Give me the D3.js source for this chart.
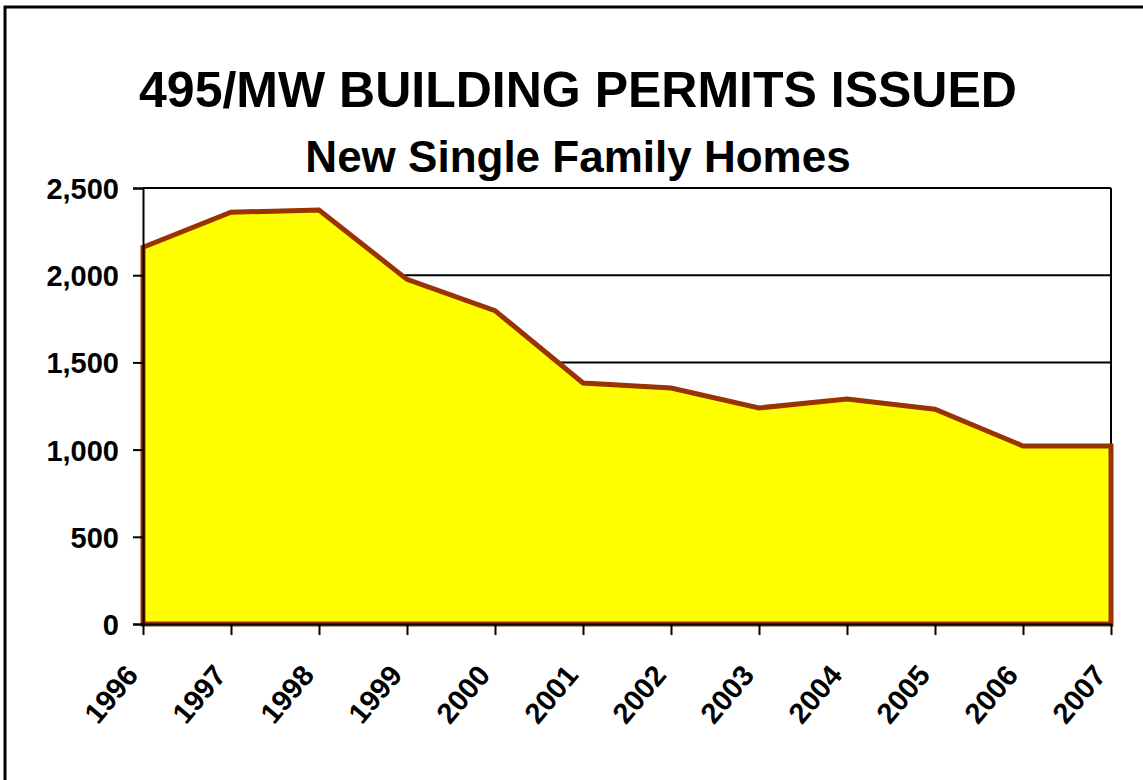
<!DOCTYPE html>
<html>
    <head>
        <meta charset="utf-8" />
        <title>495/MW Building Permits</title>
        <script src="https://d3js.org/d3.v7.min.js"></script>
        <style>
            body { margin: 0; background: white; }
            text { font-family: "Liberation Sans", Arial, sans-serif; font-weight: bold; fill: black; }
        </style>
    </head>
    <body>
        <svg id="chart" width="1143" height="780"></svg>

        <script>
            // data
            var years = ["1996", "1997", "1998", "1999", "2000", "2001",
                         "2002", "2003", "2004", "2005", "2006", "2007"];
            var permits = [2160, 2361, 2374, 1976, 1797, 1382,
                           1353, 1239, 1290, 1231, 1021, 1021];
            var yTicks = [0, 500, 1000, 1500, 2000, 2500];

            var svg = d3.select("#chart");

            // outer frame (right and bottom run off the picture)
            svg.append("rect")
                .attr("x", 5).attr("y", 7)
                .attr("width", 1160).attr("height", 800)
                .attr("fill", "none")
                .attr("stroke", "black")
                .attr("stroke-width", 3);

            // plot box (note: "top" is taken by window.top)
            var plotLeft = 143, plotRight = 1111, plotTop = 188, plotBottom = 624;

            var x = d3.scalePoint().domain(years).range([plotLeft, plotRight]);
            var y = d3.scaleLinear().domain([0, 2500]).range([plotBottom, plotTop]);

            // titles
            svg.append("text")
                .attr("x", 578).attr("y", 107)
                .attr("text-anchor", "middle")
                .style("font-size", "50px")
                .text("495/MW BUILDING PERMITS ISSUED");

            svg.append("text")
                .attr("x", 578).attr("y", 172)
                .attr("text-anchor", "middle")
                .style("font-size", "44px")
                .text("New Single Family Homes");

            // gridlines
            svg.append("g")
                .selectAll("line")
                .data(yTicks.filter(function(d) { return d > 0; }))
                .join("line")
                .attr("x1", plotLeft).attr("x2", plotRight)
                .attr("y1", function(d) { return y(d); })
                .attr("y2", function(d) { return y(d); })
                .attr("stroke", "black")
                .attr("stroke-width", 2);

            // right border of plot
            svg.append("line")
                .attr("x1", plotRight).attr("x2", plotRight)
                .attr("y1", plotTop).attr("y2", plotBottom)
                .attr("stroke", "black")
                .attr("stroke-width", 2);

            // the area, closed down to zero so the brown edge runs all round
            var area = d3.area()
                .x(function(d, i) { return x(years[i]); })
                .y0(y(0))
                .y1(function(d) { return y(d); });

            svg.append("path")
                .datum(permits)
                .attr("d", area)
                .attr("fill", "#ffff00")
                .attr("stroke", "#993300")
                .attr("stroke-width", 5)
                .attr("stroke-linejoin", "miter");

            // y axis
            var yAxis = d3.axisLeft(y)
                .tickValues(yTicks)
                .tickFormat(d3.format(","))
                .tickSize(10)
                .tickPadding(14);

            var gy = svg.append("g")
                .attr("transform", "translate(" + plotLeft + ",0)")
                .call(yAxis);
            gy.select(".domain").attr("stroke", "black").attr("stroke-width", 2);
            gy.selectAll(".tick line").attr("stroke", "black").attr("stroke-width", 2);
            gy.selectAll(".tick text")
                .attr("fill", "black")
                .style("font-size", "29px")
                .attr("dy", "0.36em");

            // x axis
            var xAxis = d3.axisBottom(x).tickSize(11).tickSizeOuter(0);
            var gx = svg.append("g")
                .attr("transform", "translate(0," + plotBottom + ")")
                .call(xAxis);
            gx.select(".domain").attr("stroke", "black").attr("stroke-width", 2);
            gx.selectAll(".tick line").attr("stroke", "black").attr("stroke-width", 2);
            gx.selectAll(".tick text")
                .attr("fill", "black")
                .style("font-size", "29px")
                .attr("text-anchor", "end")
                .attr("y", 0).attr("dy", 0)
                .attr("transform", "translate(-4,52) rotate(-50)");
        </script>
    </body>
</html>
